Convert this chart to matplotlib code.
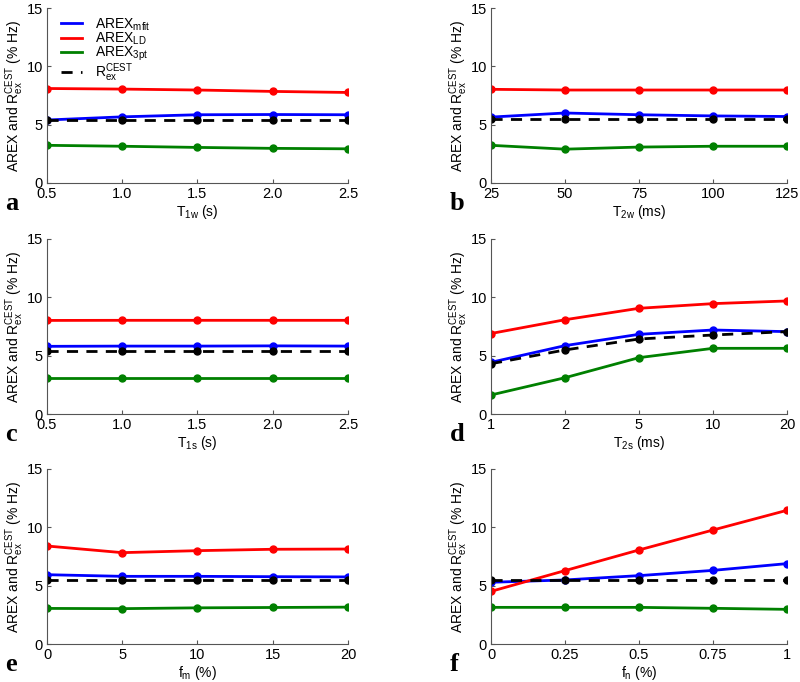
import matplotlib
matplotlib.use("Agg")
import matplotlib.pyplot as plt

plt.rcParams["font.family"] = ["Liberation Sans", "DejaVu Sans"]
plt.rcParams["mathtext.default"] = "regular"

# ── data ──
SERIES = ["mfit", "LD", "3pt", "Rex"]

a_x = [0.5, 1.0, 1.5, 2.0, 2.5]
a_mfit = [5.4, 5.67, 5.85, 5.87, 5.85]
a_ld = [8.1, 8.05, 7.97, 7.85, 7.76]
a_3pt = [3.23, 3.15, 3.05, 2.97, 2.93]
a_rex = [5.42, 5.42, 5.42, 5.42, 5.42]

b_x = [25, 50, 75, 100, 125]
b_mfit = [5.65, 6.0, 5.85, 5.75, 5.7]
b_ld = [8.03, 7.97, 7.97, 7.97, 7.97]
b_3pt = [3.23, 2.9, 3.08, 3.15, 3.15]
b_rex = [5.45, 5.45, 5.45, 5.45, 5.45]

c_x = [0.5, 1.0, 1.5, 2.0, 2.5]
c_mfit = [5.8, 5.82, 5.82, 5.84, 5.82]
c_ld = [8.02, 8.03, 8.03, 8.03, 8.03]
c_3pt = [3.08, 3.08, 3.08, 3.08, 3.08]
c_rex = [5.42, 5.42, 5.42, 5.42, 5.42]

d_labels = ["1", "2", "5", "10", "20"]
d_mfit = [4.43, 5.86, 6.83, 7.2, 7.06]
d_ld = [6.9, 8.08, 9.06, 9.46, 9.69]
d_3pt = [1.63, 3.11, 4.83, 5.63, 5.63]
d_rex = [4.31, 5.49, 6.43, 6.77, 7.06]

e_x = [0, 5, 10, 15, 20]
e_mfit = [5.94, 5.8, 5.8, 5.77, 5.75]
e_ld = [8.4, 7.83, 8.0, 8.12, 8.14]
e_3pt = [3.05, 3.03, 3.1, 3.13, 3.16]
e_rex = [5.45, 5.45, 5.45, 5.45, 5.45]

f_x = [0, 0.25, 0.5, 0.75, 1]
f_mfit = [5.29, 5.49, 5.86, 6.31, 6.89]
f_ld = [4.51, 6.29, 8.06, 9.77, 11.46]
f_3pt = [3.14, 3.14, 3.14, 3.06, 2.97]
f_rex = [5.49, 5.49, 5.49, 5.49, 5.49]

# ── styles ──
STYLE = {
    "mfit": dict(color="#0000ff", ls="-"),
    "LD": dict(color="#ff0000", ls="-"),
    "3pt": dict(color="#008000", ls="-"),
    "Rex": dict(color="#000000", ls=(0, (4, 3))),
}
LEGEND = {
    "mfit": r"AREX$_{mfit}$",
    "LD": r"AREX$_{LD}$",
    "3pt": r"AREX$_{3pt}$",
    "Rex": r"R$_{ex}^{CEST}$",
}
YLABEL = r"AREX and R$_{ex}^{CEST}$ (% Hz)"

panels = [
    ("a", a_x, [a_mfit, a_ld, a_3pt, a_rex], r"T$_{1w}$ (s)", ["0.5", "1.0", "1.5", "2.0", "2.5"]),
    ("b", b_x, [b_mfit, b_ld, b_3pt, b_rex], r"T$_{2w}$ (ms)", None),
    ("c", c_x, [c_mfit, c_ld, c_3pt, c_rex], r"T$_{1s}$ (s)", ["0.5", "1.0", "1.5", "2.0", "2.5"]),
    ("d", list(range(len(d_labels))), [d_mfit, d_ld, d_3pt, d_rex], r"T$_{2s}$ (ms)", d_labels),
    ("e", e_x, [e_mfit, e_ld, e_3pt, e_rex], r"f$_{m}$ (%)", None),
    ("f", f_x, [f_mfit, f_ld, f_3pt, f_rex], r"f$_{n}$ (%)", ["0", "0.25", "0.5", "0.75", "1"]),
]

W, H = 800, 682
fig = plt.figure(figsize=(W / 100, H / 100), dpi=100)
fig.patch.set_facecolor("white")

col_left = [47, 491]
col_width = [301, 296]
row_top = [8, 239, 469]
ax_h = 175

for k, (letter, xs, ys, xlabel, xticklabels) in enumerate(panels):
    r, c = divmod(k, 2)
    left = col_left[c] / W
    bottom = 1 - (row_top[r] + ax_h) / H
    ax = fig.add_axes([left, bottom, col_width[c] / W, ax_h / H])

    for name, yv in zip(SERIES, ys):
        st = STYLE[name]
        ax.plot(xs, yv, color=st["color"], linestyle=st["ls"], lw=2,
                marker="o", ms=5, label=LEGEND[name])

    ax.set_xlim(xs[0], xs[-1])
    ax.set_ylim(0, 15)
    ax.set_yticks([0, 5, 10, 15])
    ax.set_xticks(xs)
    if xticklabels is not None:
        ax.set_xticklabels(xticklabels)

    for side in ("top", "right"):
        ax.spines[side].set_visible(False)
    for side in ("left", "bottom"):
        ax.spines[side].set_color("#555555")
        ax.spines[side].set_linewidth(0.8)
    ax.tick_params(direction="in", length=3, width=0.8, color="#555555",
                   labelsize=10.5, pad=3)
    ax.set_xlabel(xlabel, fontsize=10, labelpad=1)
    ax.set_ylabel(YLABEL, fontsize=10, labelpad=0)

    # panel letter, bold serif, bottom-left under the axis
    ax.text(-0.14, -0.115, letter, transform=ax.transAxes,
            fontsize=19, fontweight="bold", family=["Liberation Serif", "DejaVu Serif"],
            ha="left", va="center")

    if letter == "a":
        ax.legend(loc="upper left", bbox_to_anchor=(0.02, 1.0), frameon=False,
                  fontsize=10, handlelength=1.5, handletextpad=0.9,
                  labelspacing=-0.15, borderaxespad=0.2, markerscale=0)

fig.savefig("out.png", dpi=100, facecolor="white")
